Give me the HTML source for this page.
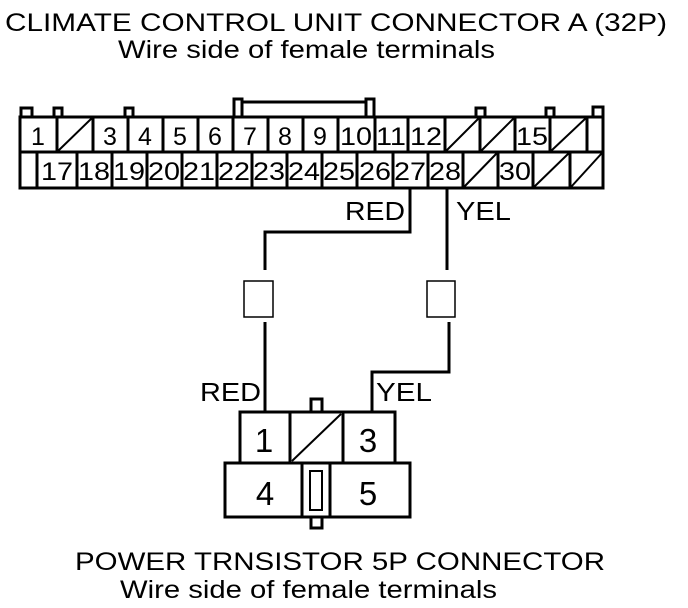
<!DOCTYPE html>
<html><head><meta charset="utf-8"><style>
html,body{margin:0;padding:0;background:#fff;}
svg{display:block;}
text{font-family:"Liberation Sans",Arial,sans-serif;fill:#000;}
</style></head><body>
<svg width="688" height="608" viewBox="0 0 688 608" xmlns="http://www.w3.org/2000/svg">
<text x="5" y="31" font-size="25" textLength="662" lengthAdjust="spacingAndGlyphs">CLIMATE CONTROL UNIT CONNECTOR A (32P)</text>
<text x="118" y="58" font-size="25" textLength="377" lengthAdjust="spacingAndGlyphs">Wire side of female terminals</text>

<g fill="#fff" stroke="#000" stroke-width="3">
<rect x="21" y="108" width="11" height="10"/>
<rect x="54" y="108" width="8" height="10"/>
<rect x="125" y="108" width="8" height="10"/>
<rect x="234" y="99" width="8" height="19"/>
<rect x="366" y="99" width="8" height="19"/>
<line x1="242" y1="102" x2="366" y2="102"/>
<rect x="476" y="108" width="9" height="10"/>
<rect x="546" y="108" width="8" height="10"/>
<rect x="593" y="107" width="10" height="11"/>
<rect x="20" y="117" width="583" height="71"/>
<line x1="20" y1="152" x2="603" y2="152"/>
</g>
<g stroke="#000" stroke-width="3">
<line x1="57" y1="117" x2="57" y2="152"/><line x1="93" y1="117" x2="93" y2="152"/>
<line x1="128" y1="117" x2="128" y2="152"/><line x1="163" y1="117" x2="163" y2="152"/>
<line x1="198" y1="117" x2="198" y2="152"/><line x1="233" y1="117" x2="233" y2="152"/>
<line x1="268" y1="117" x2="268" y2="152"/><line x1="303" y1="117" x2="303" y2="152"/>
<line x1="338" y1="117" x2="338" y2="152"/><line x1="375" y1="117" x2="375" y2="152"/>
<line x1="408" y1="117" x2="408" y2="152"/><line x1="445" y1="117" x2="445" y2="152"/>
<line x1="480" y1="117" x2="480" y2="152"/><line x1="515" y1="117" x2="515" y2="152"/>
<line x1="550" y1="117" x2="550" y2="152"/><line x1="587" y1="117" x2="587" y2="152"/>

<line x1="37" y1="152" x2="37" y2="188"/><line x1="77" y1="152" x2="77" y2="188"/>
<line x1="112" y1="152" x2="112" y2="188"/><line x1="147" y1="152" x2="147" y2="188"/>
<line x1="182" y1="152" x2="182" y2="188"/><line x1="217" y1="152" x2="217" y2="188"/>
<line x1="252" y1="152" x2="252" y2="188"/><line x1="287" y1="152" x2="287" y2="188"/>
<line x1="322" y1="152" x2="322" y2="188"/><line x1="357" y1="152" x2="357" y2="188"/>
<line x1="393" y1="152" x2="393" y2="188"/><line x1="428" y1="152" x2="428" y2="188"/>
<line x1="463" y1="152" x2="463" y2="188"/><line x1="498" y1="152" x2="498" y2="188"/>
<line x1="533" y1="152" x2="533" y2="188"/><line x1="570" y1="152" x2="570" y2="188"/>
</g>
<g stroke="#000" stroke-width="2">
<line x1="58" y1="151" x2="92" y2="118"/>
<line x1="446" y1="151" x2="479" y2="118"/>
<line x1="481" y1="151" x2="514" y2="118"/>
<line x1="551" y1="151" x2="586" y2="118"/>
<line x1="464" y1="187" x2="497" y2="153"/>
<line x1="534" y1="187" x2="569" y2="153"/>
<line x1="571" y1="187" x2="602" y2="153"/>
</g>
<g font-size="25" text-anchor="middle">
<text x="38" y="145">1</text><text x="110" y="145">3</text><text x="145" y="145">4</text>
<text x="180" y="145">5</text><text x="215" y="145">6</text><text x="250" y="145">7</text>
<text x="285" y="145">8</text><text x="320" y="145">9</text><text x="356" y="145" textLength="32" lengthAdjust="spacingAndGlyphs">10</text>
<text x="391" y="145" textLength="30" lengthAdjust="spacingAndGlyphs">11</text><text x="426" y="145" textLength="32" lengthAdjust="spacingAndGlyphs">12</text><text x="532" y="145" textLength="32" lengthAdjust="spacingAndGlyphs">15</text>
</g>
<g font-size="25" text-anchor="middle" lengthAdjust="spacingAndGlyphs">
<text x="57" y="180" textLength="32" lengthAdjust="spacingAndGlyphs">17</text><text x="94" y="180" textLength="32" lengthAdjust="spacingAndGlyphs">18</text><text x="129" y="180" textLength="32" lengthAdjust="spacingAndGlyphs">19</text>
<text x="164" y="180" textLength="32" lengthAdjust="spacingAndGlyphs">20</text><text x="199" y="180" textLength="32" lengthAdjust="spacingAndGlyphs">21</text><text x="234" y="180" textLength="32" lengthAdjust="spacingAndGlyphs">22</text>
<text x="269" y="180" textLength="32" lengthAdjust="spacingAndGlyphs">23</text><text x="304" y="180" textLength="32" lengthAdjust="spacingAndGlyphs">24</text><text x="339" y="180" textLength="32" lengthAdjust="spacingAndGlyphs">25</text>
<text x="375" y="180" textLength="32" lengthAdjust="spacingAndGlyphs">26</text><text x="410" y="180" textLength="32" lengthAdjust="spacingAndGlyphs">27</text><text x="445" y="180" textLength="32" lengthAdjust="spacingAndGlyphs">28</text>
<text x="515" y="180" textLength="32" lengthAdjust="spacingAndGlyphs">30</text>
</g>

<g fill="none" stroke="#000" stroke-width="3">
<polyline points="410,188 410,232 265,232 265,270"/>
<line x1="265" y1="322" x2="265" y2="412"/>
<line x1="447" y1="188" x2="447" y2="270"/>
<polyline points="449,322 449,372 372,372 372,412"/>
</g>
<g fill="#fff" stroke="#000" stroke-width="1.5">
<rect x="244" y="281" width="29" height="36"/>
<rect x="427" y="281" width="28" height="36"/>
</g>
<g font-size="26">
<text x="345" y="220" textLength="60" lengthAdjust="spacingAndGlyphs">RED</text>
<text x="456" y="220" textLength="55" lengthAdjust="spacingAndGlyphs">YEL</text>
<text x="200" y="401" textLength="61" lengthAdjust="spacingAndGlyphs">RED</text>
<text x="376" y="401" textLength="56" lengthAdjust="spacingAndGlyphs">YEL</text>
</g>

<g fill="#fff" stroke="#000" stroke-width="3">
<rect x="311" y="399" width="11" height="13"/>
<rect x="311" y="517" width="11" height="11"/>
<rect x="240" y="412" width="155" height="51"/>
<rect x="225" y="463" width="185" height="54"/>
<rect x="310" y="471" width="12" height="39" stroke-width="2"/>
</g>
<g stroke="#000" stroke-width="3">
<line x1="290" y1="412" x2="290" y2="463"/>
<line x1="343" y1="412" x2="343" y2="463"/>
<line x1="302" y1="463" x2="302" y2="517"/>
<line x1="330" y1="463" x2="330" y2="517"/>
</g>
<line x1="292" y1="461" x2="341" y2="414" stroke="#000" stroke-width="2"/>
<g font-size="33" text-anchor="middle">
<text x="264" y="452">1</text><text x="368" y="452">3</text>
<text x="265" y="505">4</text><text x="368" y="505">5</text>
</g>

<text x="75" y="570" font-size="25" textLength="530" lengthAdjust="spacingAndGlyphs">POWER TRNSISTOR 5P CONNECTOR</text>
<text x="120" y="598" font-size="25" textLength="377" lengthAdjust="spacingAndGlyphs">Wire side of female terminals</text>
</svg>
</body></html>
